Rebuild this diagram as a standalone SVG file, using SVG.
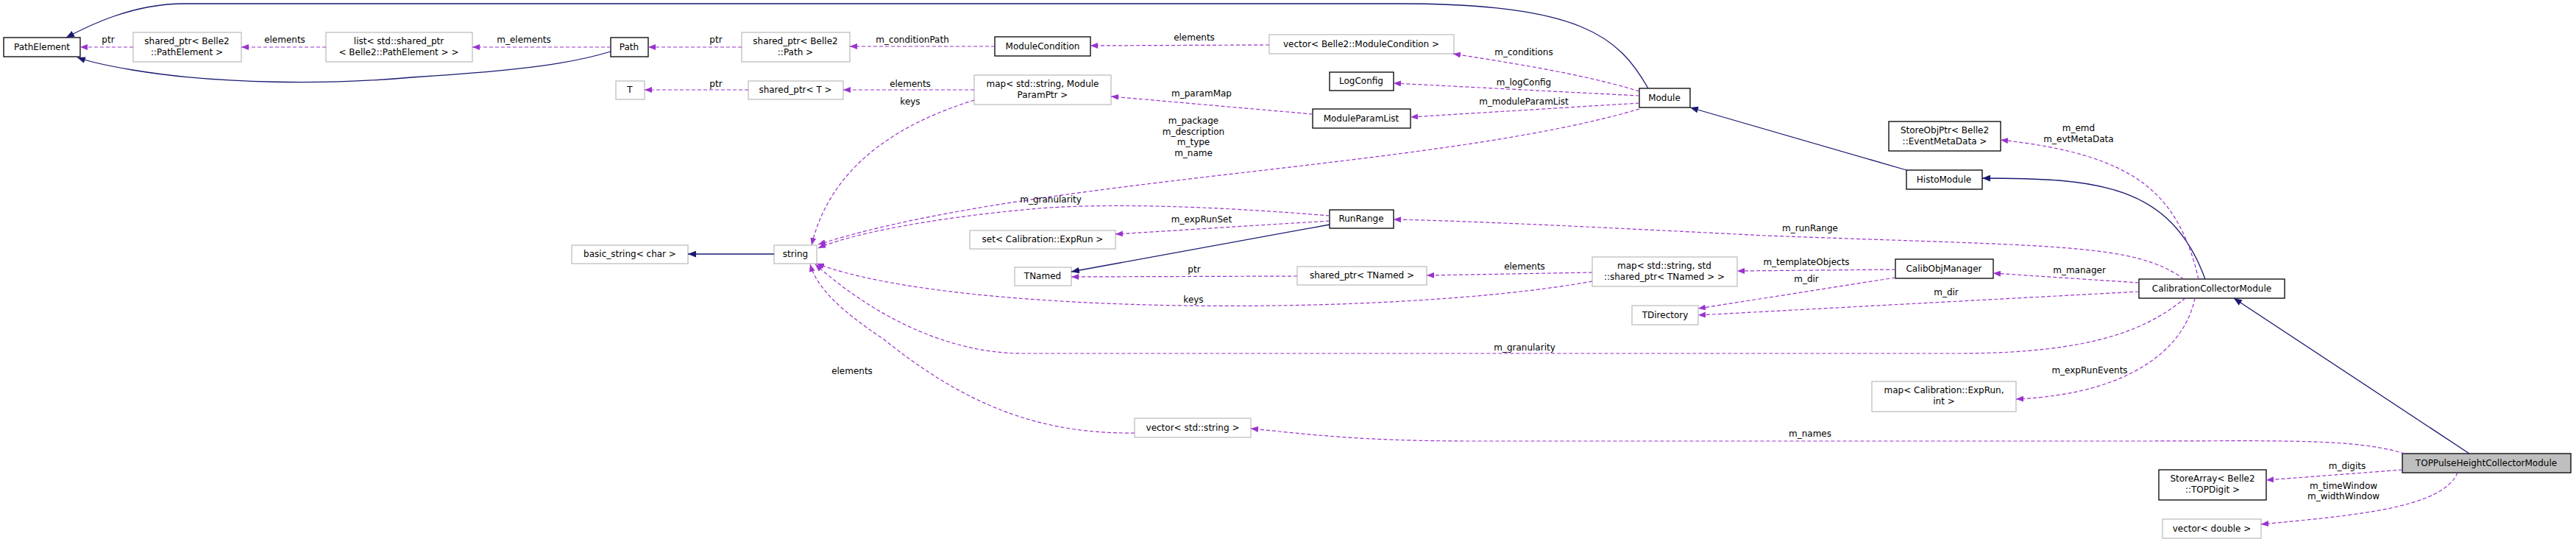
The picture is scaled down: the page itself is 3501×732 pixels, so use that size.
<svg xmlns="http://www.w3.org/2000/svg" width="3501" height="732" viewBox="0 0 3501 732">
<style>
text{font-family:"DejaVu Sans",sans-serif;font-size:12px;fill:#000;text-anchor:middle}
.n rect{fill:#fff;stroke:#000;stroke-width:1.3}
.g rect{fill:#fff;stroke:#bfbfbf;stroke-width:1.3}
.u{fill:none;stroke:#9a32cd;stroke-width:1.2;stroke-dasharray:5,3}
.i{fill:none;stroke:#191970;stroke-width:1.3}
</style>
<defs>
<marker id="ap" viewBox="0 0 10 8" refX="10" refY="4" markerWidth="10" markerHeight="8" markerUnits="userSpaceOnUse" orient="auto"><path d="M0,0L10,4L0,8z" fill="#9a32cd"/></marker>
<marker id="an" viewBox="0 0 10 8" refX="10" refY="4" markerWidth="11" markerHeight="9" markerUnits="userSpaceOnUse" orient="auto"><path d="M0,0L10,4L0,8z" fill="#191970"/></marker>
</defs>
<rect width="3501" height="732" fill="#fff"/>
<g id="nodes">
<g id="PathElement" class="n"><rect x="5" y="51" width="104" height="26"/><text x="57" y="68">PathElement</text></g>
<g id="spPE" class="g"><rect x="181" y="44" width="147" height="40"/><text x="254" y="60">shared_ptr&lt; Belle2</text><text x="254" y="75">::PathElement &gt;</text></g>
<g id="listPE" class="g"><rect x="443" y="44" width="199" height="40"/><text x="542" y="60">list&lt; std::shared_ptr</text><text x="542" y="75">&lt; Belle2::PathElement &gt; &gt;</text></g>
<g id="Path" class="n"><rect x="830" y="51" width="51" height="26"/><text x="855" y="68">Path</text></g>
<g id="spPath" class="g"><rect x="1008" y="44" width="147" height="40"/><text x="1081" y="60">shared_ptr&lt; Belle2</text><text x="1081" y="75">::Path &gt;</text></g>
<g id="ModuleCondition" class="n"><rect x="1352" y="50" width="130" height="26"/><text x="1417" y="67">ModuleCondition</text></g>
<g id="vecMC" class="g"><rect x="1725" y="47" width="251" height="26"/><text x="1850" y="64">vector&lt; Belle2::ModuleCondition &gt;</text></g>
<g id="T" class="g"><rect x="837" y="110" width="39" height="25"/><text x="856" y="126">T</text></g>
<g id="spT" class="g"><rect x="1017" y="110" width="129" height="25"/><text x="1081" y="126">shared_ptr&lt; T &gt;</text></g>
<g id="mapMP" class="g"><rect x="1324" y="102" width="186" height="40"/><text x="1417" y="118">map&lt; std::string, Module</text><text x="1417" y="133">ParamPtr &gt;</text></g>
<g id="LogConfig" class="n"><rect x="1807" y="98" width="87" height="25"/><text x="1850" y="114">LogConfig</text></g>
<g id="ModuleParamList" class="n"><rect x="1784" y="148" width="133" height="26"/><text x="1850" y="165">ModuleParamList</text></g>
<g id="Module" class="n"><rect x="2228" y="120" width="69" height="26"/><text x="2262" y="137">Module</text></g>
<g id="StoreObjPtr" class="n"><rect x="2567" y="165" width="152" height="40"/><text x="2643" y="181">StoreObjPtr&lt; Belle2</text><text x="2643" y="196">::EventMetaData &gt;</text></g>
<g id="HistoModule" class="n"><rect x="2591" y="231" width="103" height="26"/><text x="2642" y="248">HistoModule</text></g>
<g id="RunRange" class="n"><rect x="1807" y="285" width="87" height="25"/><text x="1850" y="301">RunRange</text></g>
<g id="setER" class="g"><rect x="1318" y="313" width="198" height="25"/><text x="1417" y="329">set&lt; Calibration::ExpRun &gt;</text></g>
<g id="basic_string" class="g"><rect x="777" y="333" width="158" height="25"/><text x="856" y="349">basic_string&lt; char &gt;</text></g>
<g id="string" class="g"><rect x="1052" y="333" width="58" height="25"/><text x="1081" y="349">string</text></g>
<g id="TNamed" class="g"><rect x="1379" y="363" width="77" height="25"/><text x="1417" y="379">TNamed</text></g>
<g id="spTNamed" class="g"><rect x="1763" y="362" width="176" height="25"/><text x="1851" y="378">shared_ptr&lt; TNamed &gt;</text></g>
<g id="mapTN" class="g"><rect x="2164" y="349" width="197" height="40"/><text x="2262" y="365">map&lt; std::string, std</text><text x="2262" y="380">::shared_ptr&lt; TNamed &gt; &gt;</text></g>
<g id="CalibObjManager" class="n"><rect x="2576" y="352" width="133" height="26"/><text x="2642" y="369">CalibObjManager</text></g>
<g id="CCM" class="n"><rect x="2907" y="379" width="198" height="26"/><text x="3006" y="396">CalibrationCollectorModule</text></g>
<g id="TDirectory" class="g"><rect x="2218" y="415" width="90" height="26"/><text x="2263" y="432">TDirectory</text></g>
<g id="mapERint" class="g"><rect x="2544" y="518" width="196" height="41"/><text x="2642" y="534">map&lt; Calibration::ExpRun,</text><text x="2642" y="549">int &gt;</text></g>
<g id="vecStr" class="g"><rect x="1542" y="568" width="158" height="26"/><text x="1621" y="585">vector&lt; std::string &gt;</text></g>
<g id="TOPPHCM" class="n"><rect x="3265" y="616" width="229" height="26" style="fill:#bfbfbf"/><text x="3379" y="633">TOPPulseHeightCollectorModule</text></g>
<g id="StoreArray" class="n"><rect x="2934" y="638" width="146" height="41"/><text x="3007" y="654">StoreArray&lt; Belle2</text><text x="3007" y="669">::TOPDigit &gt;</text></g>
<g id="vecDbl" class="g"><rect x="2939" y="705" width="134" height="26"/><text x="3006" y="722">vector&lt; double &gt;</text></g>
</g>
<g id="edges">
<path class="i" marker-end="url(#an)" d="M2240,120 C2200,50 2150,5 1900,5 L250,5 C180,5 120,35 90,51"/>
<path class="i" marker-end="url(#an)" d="M830,70 C780,85 720,95 560,105 C450,115 300,115 180,95 C150,90 125,85 105,78"/>
<path class="u" marker-end="url(#ap)" d="M181,64 L109,64"/><text x="147" y="58">ptr</text>
<path class="u" marker-end="url(#ap)" d="M443,64 L328,64"/><text x="387" y="58">elements</text>
<path class="u" marker-end="url(#ap)" d="M830,64 L642,64"/><text x="712" y="58">m_elements</text>
<path class="u" marker-end="url(#ap)" d="M1008,64 L881,64"/><text x="973" y="58">ptr</text>
<path class="u" marker-end="url(#ap)" d="M1352,63 L1155,63"/><text x="1240" y="58">m_conditionPath</text>
<path class="u" marker-end="url(#ap)" d="M1725,61 L1482,62"/><text x="1623" y="55">elements</text>
<path class="u" marker-end="url(#ap)" d="M2228,124 C2150,100 2050,85 1975,73"/><text x="2071" y="75">m_conditions</text>
<path class="u" marker-end="url(#ap)" d="M2228,130 L1894,113"/><text x="2071" y="116">m_logConfig</text>
<path class="u" marker-end="url(#ap)" d="M2228,140 L1917,159"/><text x="2071" y="142">m_moduleParamList</text>
<path class="u" marker-end="url(#ap)" d="M1784,155 L1510,131"/><text x="1633" y="131">m_paramMap</text>
<path class="u" marker-end="url(#ap)" d="M1324,122 L1146,122"/><text x="1237" y="118">elements</text>
<path class="u" marker-end="url(#ap)" d="M1017,122 L876,122"/><text x="973" y="118">ptr</text>
<path class="u" marker-end="url(#ap)" d="M1324,136 C1230,165 1130,220 1103,333"/><text x="1237" y="142">keys</text>
<path class="u" marker-end="url(#ap)" d="M2228,148 C1950,230 1400,240 1112,332"/>
<text x="1622" y="168">m_package</text><text x="1622" y="183">m_description</text><text x="1622" y="197">m_type</text><text x="1622" y="212">m_name</text>
<path class="u" marker-end="url(#ap)" d="M1807,293 C1650,280 1500,275 1400,284 C1250,298 1150,320 1112,337"/><text x="1428" y="275">m_granularity</text>
<path class="u" marker-end="url(#ap)" d="M1807,300 L1516,318"/><text x="1633" y="302">m_expRunSet</text>
<path class="i" marker-end="url(#an)" d="M1807,305 L1456,369"/>
<path class="u" marker-end="url(#ap)" d="M1763,375 L1456,376"/><text x="1623" y="370">ptr</text>
<path class="u" marker-end="url(#ap)" d="M2164,370 L1939,374"/><text x="2072" y="366">elements</text>
<path class="u" marker-end="url(#ap)" d="M2164,382 C1900,430 1300,430 1110,358"/><text x="1622" y="411">keys</text>
<path class="i" marker-end="url(#an)" d="M1052,345 L935,345"/>
<path class="i" marker-end="url(#an)" d="M2997,379 C2950,250 2850,242 2694,242"/>
<path class="i" marker-end="url(#an)" d="M2591,231 L2297,146"/>
<path class="u" marker-end="url(#ap)" d="M2988,379 C2960,260 2900,210 2719,190"/><text x="2825" y="178">m_emd</text><text x="2825" y="193">m_evtMetaData</text>
<path class="u" marker-end="url(#ap)" d="M2968,379 C2900,330 2800,335 2400,320 C2200,310 2000,300 1894,298"/><text x="2460" y="314">m_runRange</text>
<path class="u" marker-end="url(#ap)" d="M2576,366 L2361,368"/><text x="2455" y="360">m_templateObjects</text>
<path class="u" marker-end="url(#ap)" d="M2907,384 L2709,371"/><text x="2826" y="371">m_manager</text>
<path class="u" marker-end="url(#ap)" d="M2576,377 L2308,419"/><text x="2455" y="383">m_dir</text>
<path class="u" marker-end="url(#ap)" d="M2907,396 L2308,428"/><text x="2645" y="401">m_dir</text>
<path class="u" marker-end="url(#ap)" d="M2970,405 C2920,445 2850,480 2660,480 L1390,480 C1300,480 1200,440 1108,359"/><text x="2072" y="476">m_granularity</text>
<path class="u" marker-end="url(#ap)" d="M2983,405 C2970,470 2900,535 2740,542"/><text x="2840" y="507">m_expRunEvents</text>
<path class="i" marker-end="url(#an)" d="M3356,616 L3036,405"/>
<path class="u" marker-end="url(#ap)" d="M1542,588 C1400,590 1300,540 1200,460 C1140,420 1110,390 1101,359"/><text x="1158" y="508">elements</text>
<path class="u" marker-end="url(#ap)" d="M3268,616 C3200,595 3100,599 2900,599 L2000,599 C1850,599 1780,590 1700,582"/><text x="2460" y="593">m_names</text>
<path class="u" marker-end="url(#ap)" d="M3265,638 L3080,652"/><text x="3190" y="637">m_digits</text>
<path class="u" marker-end="url(#ap)" d="M3340,642 C3320,690 3200,700 3073,712"/><text x="3185" y="664">m_timeWindow</text><text x="3185" y="678">m_widthWindow</text>
</g>
</svg>
